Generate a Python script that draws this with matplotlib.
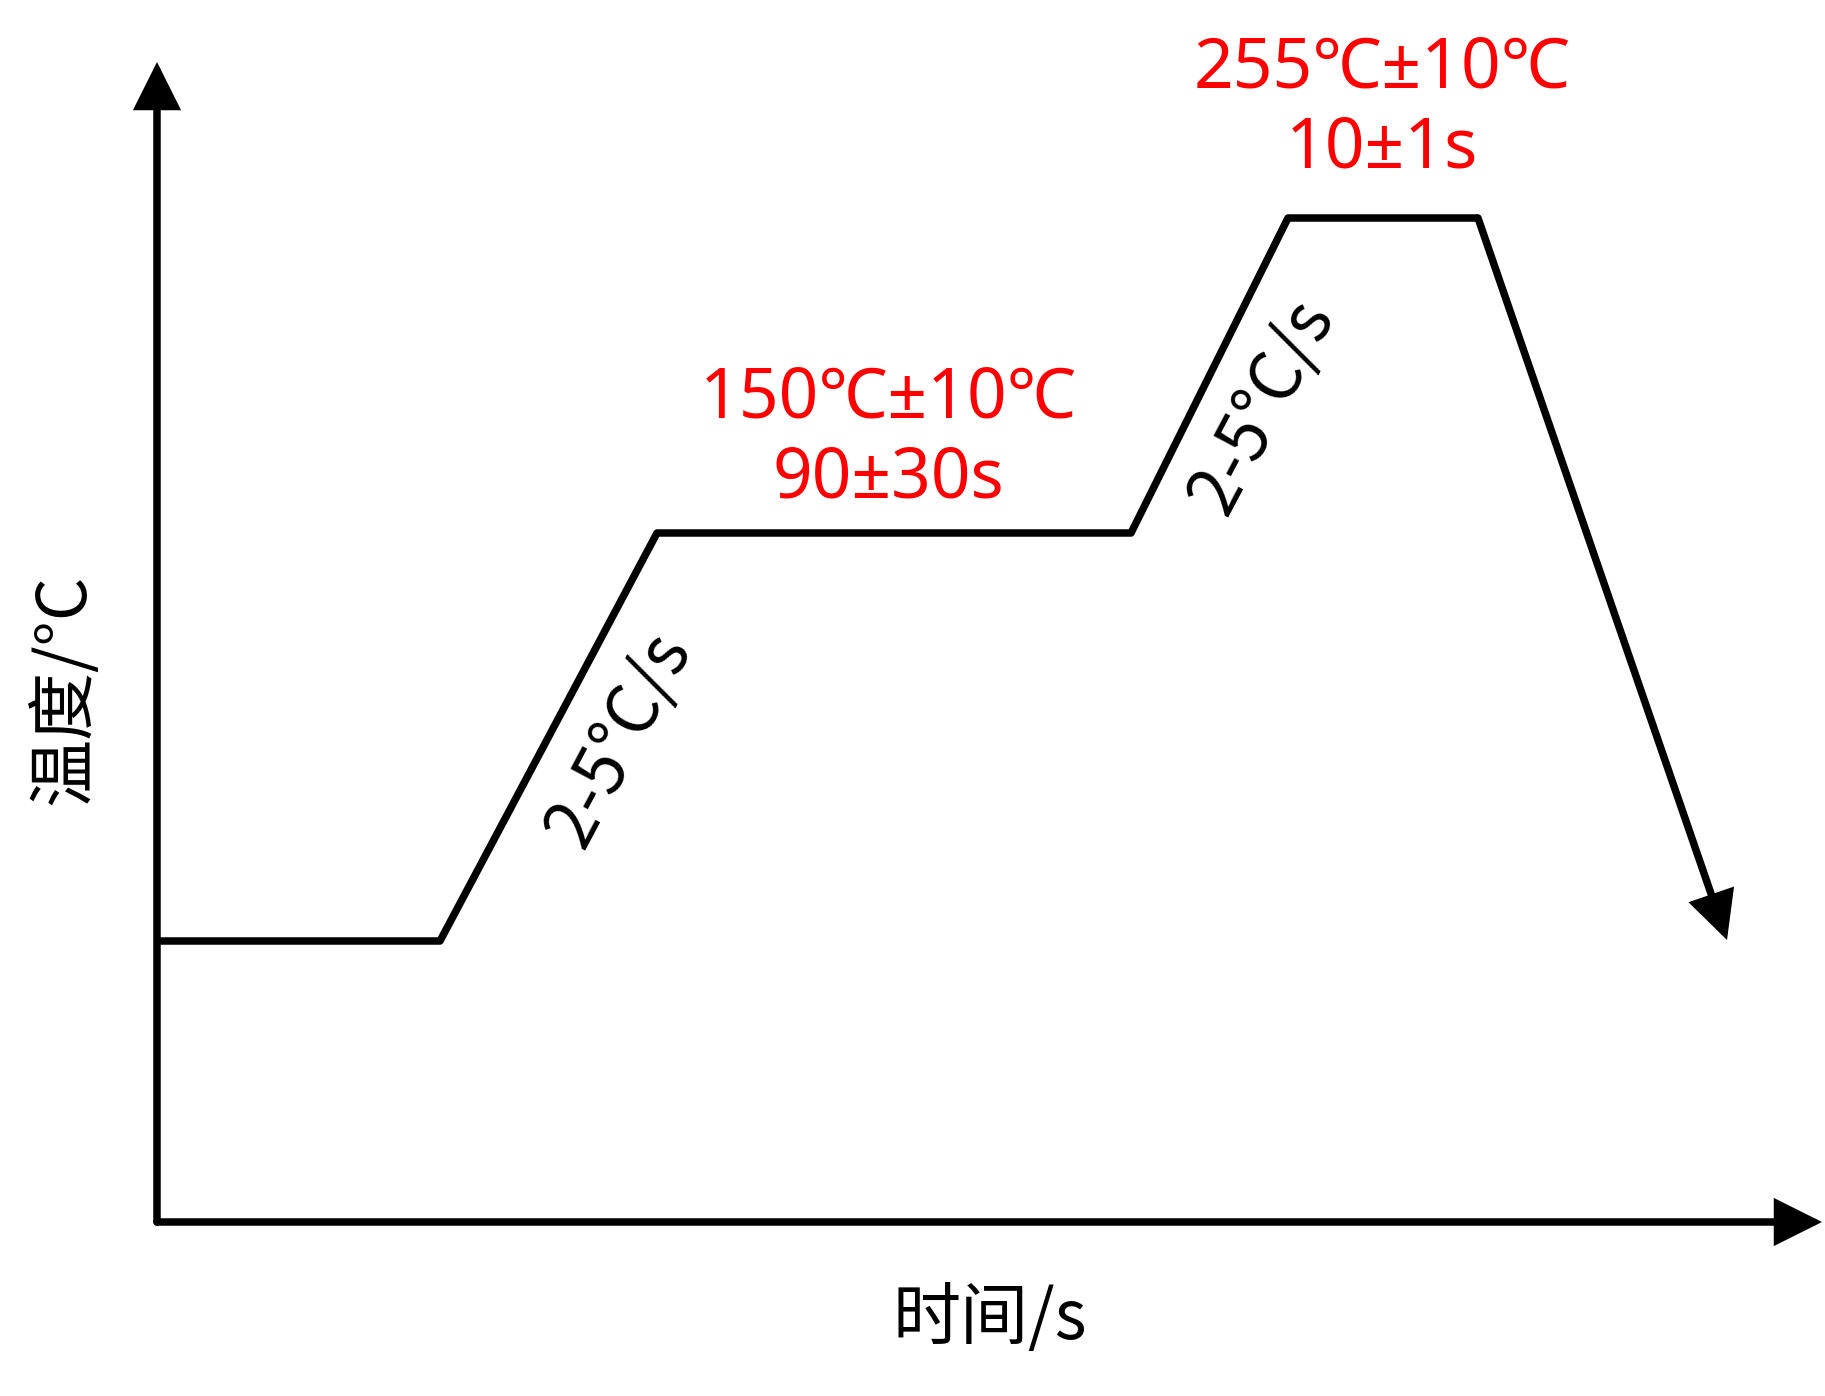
import matplotlib
matplotlib.use('Agg')
import matplotlib.pyplot as plt

plt.rcParams['font.family'] = ['Noto Sans CJK SC', 'DejaVu Sans']

# schematic reflow profile (arbitrary units, origin at the axes corner)
time = [0, 283, 500, 974, 1131, 1321]
temp = [281, 281, 689, 689, 1004, 1004]
end_point = (1570, 282)

x_axis_end = 1665
y_axis_end = 1160

x_label = '时间/s'
y_label = '温度/°C'
rate_label = '2-5°C/s'
soak_label = ['150℃±10℃', '90±30s']
peak_label = ['255℃±10℃', '10±1s']

lw = 5.4
red = '#ff0000'
red_font = ['Noto Sans', 'Noto Sans CJK SC', 'DejaVu Sans']

fig = plt.figure(figsize=(18.25, 13.96), dpi=100)
ax = fig.add_axes([0, 0, 1, 1])
ax.set_xlim(-157, 1668)
ax.set_ylim(-174, 1222)
ax.axis('off')

head = dict(arrowstyle='-|>,head_length=26,head_width=13', mutation_scale=1,
            lw=lw, color='black', shrinkA=0, shrinkB=0, joinstyle='miter')

# axes with arrows
ax.annotate('', xy=(x_axis_end, 0), xytext=(0, 0), arrowprops=head)
ax.annotate('', xy=(0, y_axis_end), xytext=(0, 0), arrowprops=head)

# profile
ax.plot(time, temp, color='black', lw=lw, solid_joinstyle='round',
        solid_capstyle='butt')
ax.annotate('', xy=end_point, xytext=(time[-1], temp[-1]), arrowprops=head)

# labels
ax.text(833, -98, x_label, fontsize=49, ha='center', va='center')
ax.text(-92, 533, y_label, fontsize=49, ha='center', va='center', rotation=90)

ax.text(463, 482, rate_label, fontsize=50, ha='center', va='center',
        rotation=62, rotation_mode='anchor')
ax.text(1106, 815, rate_label, fontsize=50, ha='center', va='center',
        rotation=62, rotation_mode='anchor')

ax.text(731, 804, soak_label[0], fontsize=50, color=red, family=red_font,
        ha='center', va='baseline')
ax.text(731, 725, soak_label[1], fontsize=50, color=red, family=red_font,
        ha='center', va='baseline')
ax.text(1225, 1134, peak_label[0], fontsize=50, color=red, family=red_font,
        ha='center', va='baseline')
ax.text(1225, 1054, peak_label[1], fontsize=50, color=red, family=red_font,
        ha='center', va='baseline')

fig.savefig('out.png', dpi=100, facecolor='white')
